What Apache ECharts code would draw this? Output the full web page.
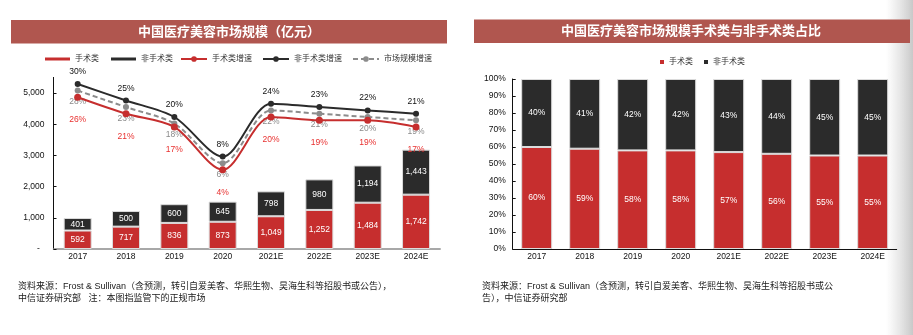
<!DOCTYPE html>
<html>
<head>
<meta charset="utf-8">
<script src="https://cdn.jsdelivr.net/npm/echarts@6/dist/echarts.min.js"></script>
<style>
  html, body { margin: 0; padding: 0; background: #fff; }
  #chart { width: 913px; height: 335px; }
</style>
</head>
<body>
<div id="chart"></div>
<script>
// Market size (亿元) and growth rates
const years = ['2017', '2018', '2019', '2020', '2021E', '2022E', '2023E', '2024E'];
const surgicalSize = [592, 717, 836, 873, 1049, 1252, 1484, 1742];
const nonSurgicalSize = [401, 500, 600, 645, 798, 980, 1194, 1443];
const surgicalGrowth = [26, 21, 17, 4, 20, 19, 19, 17];
const nonSurgicalGrowth = [30, 25, 20, 8, 24, 23, 22, 21];
const totalGrowth = [28, 23, 18, 6, 22, 21, 20, 19];
// Share of surgical vs non-surgical (%)
const surgicalShare = [60, 59, 58, 58, 57, 56, 55, 55];
const nonSurgicalShare = [40, 41, 42, 42, 43, 44, 45, 45];

const titleLeft = '中国医疗美容市场规模（亿元）';
const titleRight = '中国医疗美容市场规模手术类与非手术类占比';
const noteLeft = '资料来源：Frost & Sullivan（含预测，转引自爱美客、华熙生物、昊海生科等招股书或公告），\n中信证券研究部   注：本图指监管下的正规市场';
const noteRight = '资料来源：Frost & Sullivan（含预测，转引自爱美客、华熙生物、昊海生科等招股书或公\n告），中信证券研究部';

const FONT = '"Liberation Sans", Arial, "Noto Sans CJK SC", sans-serif';
const RED = '#C62E2E';
const BLACK = '#2B2B2B';
const GREY = '#8C8C8C';
const BAND = '#B0564F';
const SMOOTH = 0.3;

const chart = echarts.init(document.getElementById('chart'));

const barLabel = {
  show: true, position: 'inside', color: '#fff', fontSize: 8.5, fontFamily: FONT
};
const barBorder = { borderColor: '#dcdcdc', borderWidth: 1 };

chart.setOption({
  animation: false,
  textStyle: { fontFamily: FONT },
  graphic: [
    { type: 'rect', z: -10, shape: { x: 886, y: 0, width: 27, height: 335 },
      style: { fill: new echarts.graphic.LinearGradient(0, 0, 1, 0, [
        { offset: 0, color: 'rgba(215,215,215,0)' },
        { offset: 1, color: 'rgba(200,200,200,1)' }]) } },
    { type: 'rect', shape: { x: 11, y: 20, width: 436, height: 23.5 }, style: { fill: BAND } },
    { type: 'text', x: 229, y: 32, style: { text: titleLeft, fill: '#fff', font: 'bold 13px ' + FONT, align: 'center', verticalAlign: 'middle' } },
    { type: 'rect', shape: { x: 474, y: 19.5, width: 436, height: 23.5 }, style: { fill: BAND } },
    { type: 'text', x: 691, y: 31.5, style: { text: titleRight, fill: '#fff', font: 'bold 13px ' + FONT, align: 'center', verticalAlign: 'middle' } },
    { type: 'text', x: 18, y: 281, style: { text: noteLeft, fill: '#1a1a1a', font: '9px ' + FONT, lineHeight: 12, verticalAlign: 'top' } },
    { type: 'text', x: 482, y: 281, style: { text: noteRight, fill: '#1a1a1a', font: '9px ' + FONT, lineHeight: 12, verticalAlign: 'top' } }
  ],
  legend: [
    { data: ['手术类', '非手术类'], left: 40, top: 50, itemWidth: 25, itemHeight: 3, itemGap: 12,
      icon: 'rect', itemStyle: { borderWidth: 0 },
      textStyle: { fontSize: 8, color: '#333', fontFamily: FONT } },
    { data: ['手术类增速', '非手术类增速', '市场规模增速'], left: 175, top: 50, itemWidth: 26, itemHeight: 7, itemGap: 10,
      textStyle: { fontSize: 8, color: '#333', fontFamily: FONT } },
    { data: ['手术类', '非手术类'], left: 655, top: 53, itemWidth: 4, itemHeight: 4, itemGap: 11,
      icon: 'rect', itemStyle: { borderWidth: 0 },
      textStyle: { fontSize: 8, color: '#333', fontFamily: FONT } }
  ],
  grid: [
    { left: 53.5, top: 77.4, width: 386.7, height: 171.6 },
    { left: 512.7, top: 79, width: 384, height: 170 }
  ],
  xAxis: [
    { type: 'category', gridIndex: 0, data: years,
      axisLine: { lineStyle: { color: '#8c8c8c', width: 1.5 } }, axisTick: { show: false },
      axisLabel: { fontSize: 8.5, color: '#111', margin: 3, fontFamily: FONT } },
    { type: 'category', gridIndex: 1, data: years,
      axisLine: { lineStyle: { color: '#111', width: 1 } }, axisTick: { show: false },
      axisLabel: { fontSize: 8.5, color: '#111', margin: 3, fontFamily: FONT } }
  ],
  yAxis: [
    { type: 'value', gridIndex: 0, min: 0, max: 5500, interval: 1000,
      axisLine: { show: true, lineStyle: { color: '#111', width: 1 } },
      axisTick: { show: true, inside: true, length: 3, lineStyle: { color: '#111' } },
      splitLine: { show: false },
      axisLabel: { showMaxLabel: false, fontSize: 8.5, color: '#111', margin: 9, fontFamily: FONT,
        formatter: v => v === 0 ? '-  ' : v.toLocaleString('en-US') } },
    { type: 'value', gridIndex: 0, min: -20, max: 32, show: false, splitLine: { show: false } },
    { type: 'value', gridIndex: 1, min: 0, max: 100, interval: 10,
      axisLine: { show: true, lineStyle: { color: '#111', width: 1 } },
      axisTick: { show: true, inside: true, length: 3, lineStyle: { color: '#111' } },
      splitLine: { show: false },
      axisLabel: { fontSize: 8.5, color: '#111', margin: 7, fontFamily: FONT, formatter: '{value}%' } }
  ],
  series: [
    { name: '手术类', type: 'bar', xAxisIndex: 0, yAxisIndex: 0, stack: 'size', barWidth: 28,
      data: surgicalSize, itemStyle: Object.assign({ color: RED }, barBorder),
      label: Object.assign({ formatter: p => p.value.toLocaleString('en-US') }, barLabel) },
    { name: '非手术类', type: 'bar', xAxisIndex: 0, yAxisIndex: 0, stack: 'size', barWidth: 28,
      data: nonSurgicalSize, itemStyle: Object.assign({ color: BLACK }, barBorder),
      label: Object.assign({ formatter: p => p.value.toLocaleString('en-US') }, barLabel) },
    { name: '市场规模增速', type: 'line', xAxisIndex: 0, yAxisIndex: 1, smooth: SMOOTH, z: 4,
      data: totalGrowth, color: GREY, symbol: 'circle', symbolSize: 6,
      lineStyle: { color: GREY, width: 2, type: [5, 3] },
      label: { show: true, position: 'bottom', distance: 4, color: '#8a8a8a', fontSize: 8.5, fontFamily: FONT, formatter: '{c}%' } },
    { name: '手术类增速', type: 'line', xAxisIndex: 0, yAxisIndex: 1, smooth: SMOOTH, z: 5,
      data: surgicalGrowth, color: RED, symbol: 'circle', symbolSize: 7,
      lineStyle: { color: RED, width: 2 },
      label: { show: true, position: 'bottom', distance: 15, color: '#E8302F', fontSize: 8.5, fontFamily: FONT, formatter: '{c}%' } },
    { name: '非手术类增速', type: 'line', xAxisIndex: 0, yAxisIndex: 1, smooth: SMOOTH, z: 6,
      data: nonSurgicalGrowth, color: BLACK, symbol: 'circle', symbolSize: 6,
      lineStyle: { color: BLACK, width: 2 },
      label: { show: true, position: 'top', distance: 5, color: '#111', fontSize: 8.5, fontFamily: FONT, formatter: '{c}%' } },
    { name: '手术类', type: 'bar', xAxisIndex: 1, yAxisIndex: 2, stack: 'share', barWidth: 31,
      data: surgicalShare, itemStyle: Object.assign({ color: RED }, barBorder),
      label: Object.assign({ formatter: '{c}%' }, barLabel) },
    { name: '非手术类', type: 'bar', xAxisIndex: 1, yAxisIndex: 2, stack: 'share', barWidth: 31,
      data: nonSurgicalShare, itemStyle: Object.assign({ color: BLACK }, barBorder),
      label: Object.assign({ formatter: '{c}%' }, barLabel) }
  ]
});
</script>
</body>
</html>
